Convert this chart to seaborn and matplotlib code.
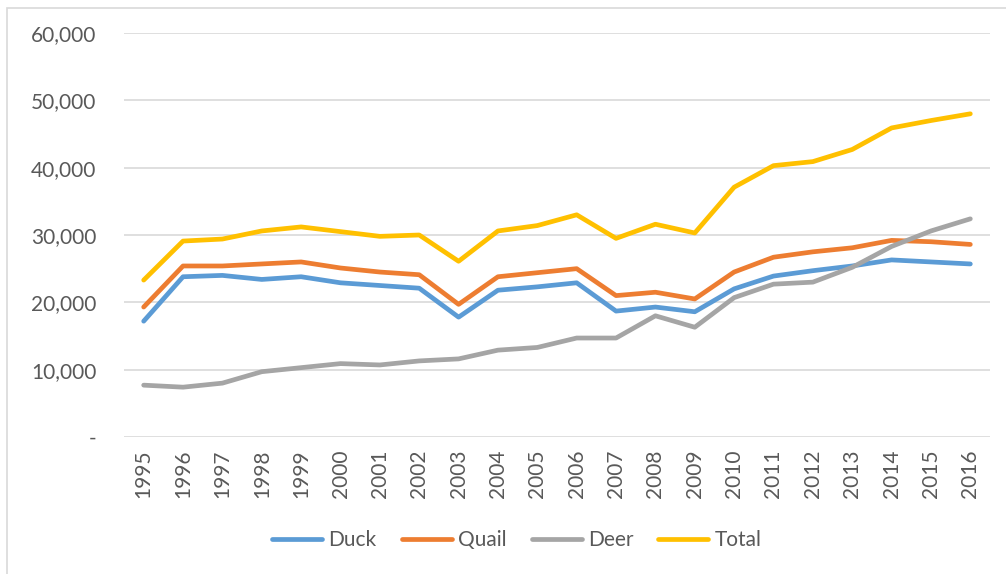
import matplotlib
matplotlib.use("Agg")
import matplotlib.pyplot as plt
from matplotlib.patches import Rectangle
from matplotlib.ticker import FuncFormatter
import numpy as np
import pandas as pd
import seaborn as sns

years = list(range(1995, 2017))
duck = [17200, 23800, 24000, 23400, 23800, 22900, 22500, 22100, 17800, 21800, 22300,
        22900, 18700, 19300, 18600, 22000, 23900, 24700, 25400, 26300, 26000, 25700]
quail = [19300, 25400, 25400, 25700, 26000, 25100, 24500, 24100, 19700, 23800, 24400,
         25000, 21000, 21500, 20500, 24500, 26700, 27500, 28100, 29200, 29000, 28600]
deer = [7700, 7400, 8000, 9700, 10300, 10900, 10700, 11300, 11600, 12900, 13300,
        14700, 14700, 18000, 16300, 20700, 22700, 23000, 25200, 28300, 30600, 32400]
total = [23300, 29100, 29400, 30600, 31200, 30500, 29800, 30000, 26100, 30600, 31400,
         33000, 29500, 31600, 30300, 37100, 40300, 40900, 42700, 45900, 47000, 48000]

series = {"Duck": duck, "Quail": quail, "Deer": deer, "Total": total}
colors = {"Duck": "#5B9BD5", "Quail": "#ED7D31", "Deer": "#A5A5A5", "Total": "#FFC000"}

rows = []
for name, vals in series.items():
    for i, v in enumerate(vals):
        rows.append({"pos": i, "year": years[i], "value": v, "series": name})
df = pd.DataFrame(rows)

sns.set_theme(style="white")
plt.rcParams["font.family"] = ["Lato", "DejaVu Sans"]
text_color = "#595959"

fig = plt.figure(figsize=(10.06, 5.74), dpi=100)
ax = fig.add_axes([124 / 1006, 1 - 437 / 574, 866 / 1006, 404 / 574])

# chart frame like the spreadsheet export
fig.patches.append(Rectangle((7 / 1006, -0.05), 1.1, 1 - 8 / 574 + 0.05,
                             transform=fig.transFigure, fill=False,
                             edgecolor="#D9D9D9", linewidth=1.2))

sns.lineplot(data=df, x="pos", y="value", hue="series", palette=colors,
             linewidth=3.4, ax=ax, legend=True,
             solid_capstyle="round", solid_joinstyle="round")

ax.set_xlim(-0.5, len(years) - 0.5)
ax.set_ylim(0, 60000)
ax.set_yticks(np.arange(0, 60001, 10000))
ax.yaxis.set_major_formatter(FuncFormatter(lambda v, p: "-" if v == 0 else f"{int(v):,}"))
ax.set_xticks(range(len(years)))
ax.set_xticklabels([str(y) for y in years], rotation=90)
ax.tick_params(axis="y", length=0, pad=20, labelsize=15, labelcolor=text_color)
ax.tick_params(axis="x", length=0, pad=9, labelsize=15, labelcolor=text_color)
ax.grid(axis="y", color="#D9D9D9", linewidth=1.2)
ax.set_axisbelow(True)
for s in ax.spines.values():
    s.set_visible(False)
ax.set_xlabel("")
ax.set_ylabel("")

handles, labels = ax.get_legend_handles_labels()
ax.legend_.remove()
leg = fig.legend(handles, labels, loc="center", bbox_to_anchor=(517 / 1006, 1 - 540 / 574),
                 ncol=4, frameon=False, fontsize=15, handlelength=2.4,
                 columnspacing=1.2, handletextpad=0.3)
for t in leg.get_texts():
    t.set_color(text_color)
for h in leg.get_lines():
    h.set_linewidth(3.4)
    h.set_solid_capstyle("round")

fig.savefig("out.png", dpi=100)
